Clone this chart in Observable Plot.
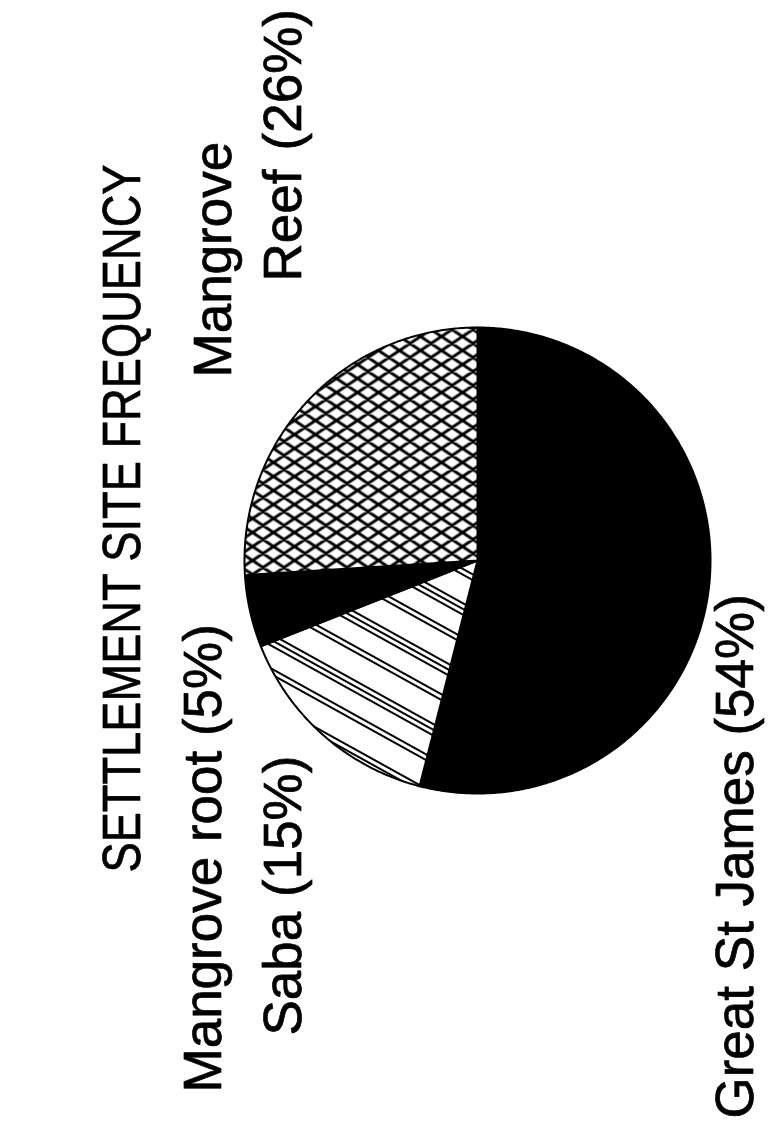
<!DOCTYPE html>
<html>
<head>
<meta charset="utf-8">
<script src="https://cdn.jsdelivr.net/npm/d3@7"></script>
<script src="https://cdn.jsdelivr.net/npm/@observablehq/plot@0.6"></script>
<style>
  html, body { margin: 0; padding: 0; background: #fff; }
  #chart { width: 768px; height: 1129px; overflow: hidden; }
</style>
</head>
<body>
<svg width="0" height="0" style="position:absolute">
  <defs>
    <pattern id="crosshatch" patternUnits="userSpaceOnUse" width="21" height="14">
      <rect width="21" height="14" fill="#fff"/>
      <path d="M-3,-2L24,16M-3,16L24,-2M-3,12L3,16M18,-2L24,2M-3,2L3,-2M18,16L24,12"
            stroke="#000" stroke-width="3" fill="none"/>
    </pattern>
    <pattern id="hatch" patternUnits="userSpaceOnUse" width="60" height="60" patternTransform="rotate(29)">
      <rect width="60" height="60" fill="#fff"/>
      <path d="M-2,3H62M-2,8H62M-2,13H62M-2,33H62M-2,38H62" stroke="#000" stroke-width="2.2" fill="none"/>
    </pattern>
  </defs>
</svg>
<div id="chart"></div>
<script>
// ---- data ----
const title = "SETTLEMENT SITE FREQUENCY";
const sites = ["Great St James", "Saba", "Mangrove root", "Mangrove Reef"];
const percents = [54, 15, 5, 26];

// ---- styles ----
const fills = {
  "Great St James": "#000",
  "Saba": "url(#hatch)",
  "Mangrove root": "#000",
  "Mangrove Reef": "url(#crosshatch)"
};
const font = "'Liberation Sans', Arial, Helvetica, sans-serif";

// ---- pie geometry (angles from data, clockwise from top) ----
const total = d3.sum(percents);
let acc = 0;
const slices = sites.map((site, i) => {
  const a0 = acc / total * 2 * Math.PI;
  acc += percents[i];
  const a1 = acc / total * 2 * Math.PI;
  const n = Math.max(2, Math.ceil((a1 - a0) / (Math.PI / 360)));
  const pts = [{x: 0, y: 0}];
  for (let k = 0; k <= n; k++) {
    const a = a0 + (a1 - a0) * k / n;
    pts.push({x: Math.sin(a), y: -Math.cos(a)});
  }
  pts.push({x: 0, y: 0});
  return {site, pts};
});

const lbl = (i) => `${sites[i]} (${percents[i]}%)`;
const reefWords = sites[3].split(" ");

function label(text, dx, dy, size, cls) {
  return Plot.text([text], {
    text: d => d,
    frameAnchor: "top-left",
    dx, dy,
    rotate: -90,
    textAnchor: "start",
    lineAnchor: "bottom",
    fontSize: size,
    fontFamily: font,
    fill: "#000",
    stroke: "#000",
    strokeWidth: 0.7,
    className: cls
  });
}

const cx = 477, cy = 560, r = 233;

const chart = Plot.plot({
  width: 768,
  height: 1129,
  margin: 0,
  x: {domain: [-1, 1], range: [cx - r, cx + r], axis: null},
  y: {domain: [-1, 1], range: [cy - r, cy + r], axis: null},
  style: {background: "#fff"},
  marks: [
    ...slices.map(s => Plot.line(s.pts, {
      x: "x", y: "y",
      fill: fills[s.site],
      stroke: "#000",
      strokeWidth: 2,
      strokeLinejoin: "round",
      curve: "linear"
    })),
    label(title, 139, 872, 53, "title-text"),
    label(reefWords[0], 230, 377, 53),
    label(`${reefWords[1]} \u200A(${percents[3]}%)`, 300, 281, 53),
    label(lbl(2), 220, 1092, 53),
    label(lbl(1), 300, 1035, 53),
    label(lbl(0), 752, 1118, 53)
  ]
});
// compress the title glyphs to the reference's length
chart.querySelectorAll(".title-text text").forEach(t => {
  t.setAttribute("textLength", "708");
  t.setAttribute("lengthAdjust", "spacingAndGlyphs");
});
document.getElementById("chart").appendChild(chart);
</script>
</body>
</html>
